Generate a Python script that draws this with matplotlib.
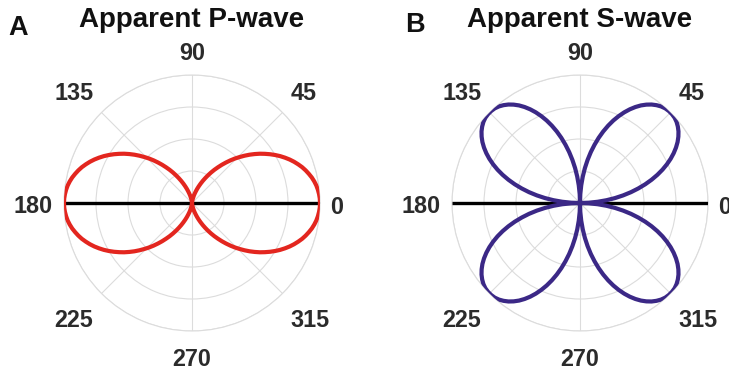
import numpy as np
import matplotlib.pyplot as plt

plt.rcParams['font.family'] = ['Liberation Sans', 'DejaVu Sans']

# amplitude over one quadrant, 0..90 deg in 2 deg steps (pattern is symmetric)
quad_deg = np.arange(0, 91, 2)
p_amp = [1.000, 0.999, 0.995, 0.989, 0.981, 0.970, 0.957, 0.941, 0.924, 0.905,
         0.883, 0.860, 0.835, 0.808, 0.780, 0.750, 0.719, 0.687, 0.655, 0.621,
         0.587, 0.552, 0.517, 0.483, 0.448, 0.413, 0.379, 0.345, 0.313, 0.281,
         0.250, 0.220, 0.192, 0.165, 0.140, 0.117, 0.095, 0.076, 0.059, 0.043,
         0.030, 0.019, 0.011, 0.005, 0.001, 0.000]
s_amp = [0.000, 0.070, 0.139, 0.208, 0.276, 0.342, 0.407, 0.469, 0.530, 0.588,
         0.643, 0.695, 0.743, 0.788, 0.829, 0.866, 0.899, 0.927, 0.951, 0.970,
         0.985, 0.995, 0.999, 0.999, 0.995, 0.985, 0.970, 0.951, 0.927, 0.899,
         0.866, 0.829, 0.788, 0.743, 0.695, 0.643, 0.588, 0.530, 0.469, 0.407,
         0.342, 0.276, 0.208, 0.139, 0.070, 0.000]

angle_ticks = [0, 45, 90, 135, 180, 225, 270, 315]
ring_ticks = [0.25, 0.5, 0.75, 1.0]

panels = [('A', 'Apparent P-wave', p_amp, '#e3261f'),
          ('B', 'Apparent S-wave', s_amp, '#3b2886')]

# label alignment and offset (pixels) for each angle label
label_style = {
    0: ('left', 'center', 10, -4),
    45: ('left', 'bottom', 8, 7.5),
    90: ('center', 'bottom', 0, 10),
    135: ('right', 'bottom', -8, 7.5),
    180: ('right', 'center', -11, -4),
    225: ('right', 'top', -8, -15.5),
    270: ('center', 'top', 0, -17),
    315: ('left', 'top', 8, -15.5),
}


def full_circle(q):
    # mirror the quadrant into 0..360
    q = np.asarray(q)
    return np.concatenate([q, q[-2::-1], q[1:], q[-2::-1]])


step = quad_deg[1] - quad_deg[0]
theta = np.deg2rad(np.arange(0, 361, step))

fig = plt.figure(figsize=(7.29, 3.76), dpi=100)
lefts = [64 / 729, 452 / 729]
centers = [192 / 729, 580 / 729]
letter_pos = [(8 / 729, 1 - 35 / 376), (405 / 729, 1 - 31.7 / 376)]

for i, (letter, title, amp, color) in enumerate(panels):
    ax = fig.add_axes([lefts[i], 45 / 376, 256 / 729, 256 / 376], projection='polar')
    ax.plot([0, 0], [0, 1], color='black', lw=2.4, solid_capstyle='butt', zorder=3)
    ax.plot([np.pi, np.pi], [0, 1], color='black', lw=2.4, solid_capstyle='butt', zorder=3)
    ax.plot(theta, full_circle(amp), color=color, lw=3.0, zorder=4)

    ax.set_ylim(0, 1)
    ax.set_rticks(ring_ticks)
    ax.set_yticklabels([])
    ax.set_thetagrids(angle_ticks, [''] * len(angle_ticks))
    ax.grid(True, color='#dcdcdc', lw=0.8)
    ax.spines['polar'].set_color('#dcdcdc')
    ax.spines['polar'].set_linewidth(0.8)

    for a in angle_ticks:
        ha, va, dx, dy = label_style[a]
        ax.annotate(str(a), xy=(np.deg2rad(a), 1.0), xytext=(dx, dy),
                    textcoords='offset pixels', ha=ha, va=va,
                    fontsize=16.8, fontweight='bold', color='#2b2b2b',
                    annotation_clip=False)

    fig.text(centers[i], 1 - 26.7 / 376, title, ha='center', va='baseline',
             fontsize=20, fontweight='bold', color='#111111')
    fig.text(letter_pos[i][0], letter_pos[i][1], letter, ha='left', va='baseline',
             fontsize=19.5, fontweight='bold', color='#111111')

fig.savefig('out.png', dpi=100)
